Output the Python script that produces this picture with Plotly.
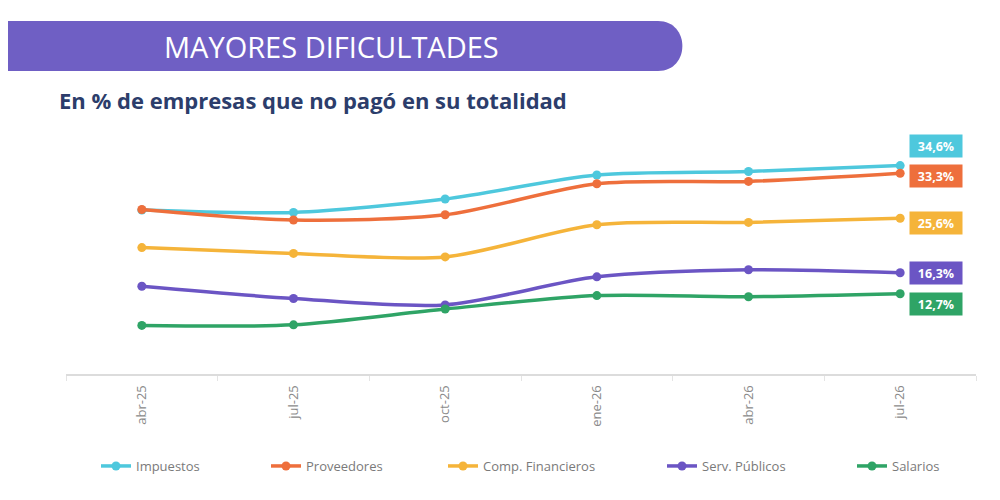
import plotly.graph_objects as go

# datos
periodos = ['abr-25', 'jul-25', 'oct-25', 'ene-26', 'abr-26', 'jul-26']
impuestos = [27.0, 26.6, 28.9, 33.0, 33.6, 34.6]
proveedores = [27.1, 25.3, 26.2, 31.5, 31.9, 33.3]
comp_financieros = [20.6, 19.6, 19.0, 24.5, 24.9, 25.6]
serv_publicos = [14.0, 11.9, 10.8, 15.6, 16.8, 16.3]
salarios = [7.3, 7.4, 10.1, 12.4, 12.2, 12.7]

# nombre, valores, color, desplazamiento de la etiqueta, x de la leyenda
series = [
    ('Impuestos', impuestos, '#4ec8dd', 20, 100),
    ('Proveedores', proveedores, '#ee6f3c', -3, 270),
    ('Comp. Financieros', comp_financieros, '#f5b43a', -5, 447),
    ('Serv. Públicos', serv_publicos, '#6b55c4', 0, 666),
    ('Salarios', salarios, '#2fa466', -10, 856),
]

# la pagina tiene 8px de margen en el body
OFF = 8
W, H = 1000 - OFF, 500 - OFF
L, R, T, B = 66 - OFF, 24, 134 - OFF, 126
PW, PH = W - L - R, H - T - B


def px(x):
    # pixel de la pagina -> coordenada paper
    return (x - OFF - L) / PW


def py(y):
    return (500 - B - y) / PH


fig = go.Figure()
legends = {}
for i, (name, vals, color, dy, lx) in enumerate(series):
    lg = 'legend' if i == 0 else f'legend{i + 1}'
    fig.add_trace(go.Scatter(
        x=periodos, y=vals, name=name, mode='lines+markers', legend=lg,
        line={'color': color, 'width': 3.5, 'shape': 'spline', 'smoothing': 0.8},
        marker={'size': 9, 'color': color},
    ))
    legends[lg] = {
        'orientation': 'h', 'x': px(lx - 4), 'y': py(466),
        'xanchor': 'left', 'yanchor': 'middle',
        'font': {'size': 13, 'color': '#7a7a7a'}, 'bgcolor': 'rgba(0,0,0,0)',
    }
    fig.add_annotation(
        x=periodos[-1], y=vals[-1], xref='x', yref='y',
        text='<b>' + f'{vals[-1]:.1f}'.replace('.', ',') + '%</b>',
        showarrow=False, xshift=36, yshift=dy,
        bgcolor=color, width=46, height=16, borderpad=3,
        font={'color': 'white', 'size': 12.5, 'family': 'Open Sans'},
    )

# banda del titulo
x0, x1, y0, y1 = 8, 683, 21, 71
r = (y1 - y0) / 2
path = (f'M {px(x0)},{py(y0)} L {px(x1 - r)},{py(y0)} '
        f'C {px(x1 + r * 0.3)},{py(y0)} {px(x1 + r * 0.3)},{py(y1)} {px(x1 - r)},{py(y1)} '
        f'L {px(x0)},{py(y1)} Z')
fig.add_shape(type='path', path=path, xref='paper', yref='paper',
              fillcolor='#6f5fc4', line={'width': 0}, layer='below')
fig.add_annotation(
    x=px(331), y=py(46), xref='paper', yref='paper', xanchor='center', yanchor='middle',
    text='MAYORES DIFICULTADES', showarrow=False,
    font={'color': 'white', 'size': 29, 'family': 'Open Sans', 'weight': 500},
)
fig.add_annotation(
    x=px(57), y=py(100), xref='paper', yref='paper', xanchor='left', yanchor='middle',
    text='<b>En % de empresas que no pagó en su totalidad</b>',
    showarrow=False, font={'color': '#2c3d6b', 'size': 22, 'family': 'Open Sans'},
)

fig.update_layout(
    width=W, height=H,
    margin={'l': L, 'r': R, 't': T, 'b': B},
    plot_bgcolor='white', paper_bgcolor='white',
    font={'family': 'Open Sans', 'color': '#808080'},
    showlegend=True,
    xaxis={
        'range': [-0.5, 5.5],
        'showline': True, 'linecolor': '#dcdcdc', 'linewidth': 2,
        'ticks': 'outside', 'tickson': 'boundaries', 'ticklen': 5, 'tickcolor': '#e4e4e4',
        'tickangle': -90, 'tickfont': {'size': 13, 'color': '#8a8a8a'},
        'ticklabelstandoff': 4,
        'showgrid': False, 'fixedrange': True,
    },
    yaxis={
        'range': [-1, 40], 'visible': False, 'showgrid': False, 'zeroline': False,
    },
    **legends,
)

fig.write_html('out.html')
